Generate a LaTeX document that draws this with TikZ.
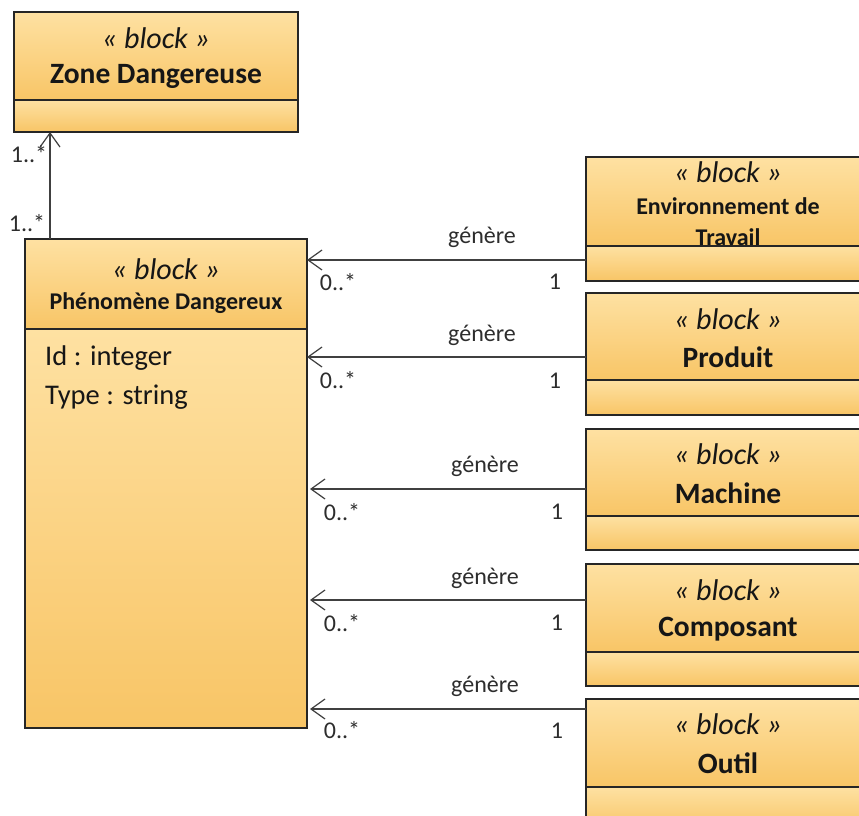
\documentclass[tikz,border=0pt]{standalone}
\usepackage{fontspec}
\setmainfont{Carlito}
\usetikzlibrary{arrows.meta}
\definecolor{boxtop}{RGB}{254,225,162}
\definecolor{boxbot}{RGB}{248,197,102}
\definecolor{txt}{RGB}{22,22,22}
\definecolor{lbl}{RGB}{45,45,45}
\tikzset{
 comp/.style={draw=black!85, line width=1.8pt, top color=boxtop, bottom color=boxbot, inner sep=0pt, outer sep=0pt},
 stereo/.style={font=\fontsize{30}{34}\selectfont\itshape, text=txt, inner sep=0pt},
 titlebig/.style={font=\fontsize{29.5}{34}\selectfont\bfseries, text=txt, inner sep=0pt},
 titlesmall/.style={font=\fontsize{24}{28}\selectfont\bfseries, text=txt, inner sep=0pt},
 attr/.style={font=\fontsize{28.5}{32}\selectfont, text=txt, anchor=west, inner sep=0pt},
 lab/.style={font=\fontsize{24}{28}\selectfont, text=lbl, inner sep=0pt},
 assoc/.style={line width=1.2pt, draw=black!75, -{Straight Barb[length=14pt,width=20pt,line width=1.2pt]}},
}
\newcommand\ublock[6]{%
  \node[comp, anchor=north west, minimum width={#3-#2}, minimum height={#5-#4}] (#1) at (#2,#4) {};
  \node[comp, anchor=north west, minimum width={#3-#2}, minimum height={#6-#5}] (#1b) at (#2,#5) {};
}
\begin{document}
\begin{tikzpicture}[x=1pt,y=-1pt]
\useasboundingbox (0,0) rectangle (859,816);
\clip (0,0) rectangle (859,816);
\fill[white] (0,0) rectangle (859,816);

% blocks
\ublock{zone}{14}{298}{12}{100}{132}
\ublock{phen}{25}{307}{239}{329}{728}
\ublock{env}{586}{872}{157}{246}{281}
\ublock{prod}{586}{872}{293}{380}{415}
\ublock{mach}{586}{872}{429}{516}{550}
\ublock{compo}{586}{872}{564}{652}{686}
\ublock{outil}{586}{872}{699}{787}{830}

% titles
\node[stereo] (zs) at (156,38) {« block »};
\node[titlebig] (zt) at (156,76) {Zone Dangereuse};
\node[stereo] (ps) at (166,269) {« block »};
\node[titlesmall] (pt) at (166,303) {Phénomène Dangereux};
\node[attr] (pa1) at (45,358) {Id : integer};
\node[attr] (pa2) at (45,397) {Type : string};

\node[stereo] (es) at (728,172) {« block »};
\node[titlesmall] (et1) at (728,206) {Environnement de};
\node[titlesmall] (et2) at (728,237) {Travail};
\draw[black!85, line width=1.8pt] (envb.north west) -- (envb.north east);

\node[stereo] (prs) at (728,319) {« block »};
\node[titlebig] (prt) at (728,357) {Produit};
\node[stereo] (ms) at (728,454) {« block »};
\node[titlebig] (mt) at (728,493) {Machine};
\node[stereo] (cs) at (728,590) {« block »};
\node[titlebig] (ct) at (728,629) {Composant};
\node[stereo] (os) at (728,724) {« block »};
\node[titlebig] (ot) at (728,763) {Outil};

% vertical association
\draw[assoc] (phen.north -| 50,0) -- (zoneb.south -| 50,0);
\node[lab] (m1) at (29,154) {1..*};
\node[lab] (m2) at (27,223) {1..*};

% horizontal associations
\draw[assoc] (envb.west |- 0,260) -- (phen.east |- 0,260);
\node[lab] (g1) at (482,237) {génère};
\node[lab] (a1) at (338,282) {0..*};
\node[lab] (b1) at (555,282) {1};

\draw[assoc] (prod.west |- 0,357) -- (phen.east |- 0,357);
\node[lab] (g2) at (482,335) {génère};
\node[lab] (a2) at (338,380) {0..*};
\node[lab] (b2) at (555,381) {1};

\draw[assoc] (mach.west |- 0,489) -- ([xshift=3pt]phenb.east |- 0,489);
\node[lab] (g3) at (485,466) {génère};
\node[lab] (a3) at (342,512) {0..*};
\node[lab] (b3) at (557,512) {1};

\draw[assoc] (compo.west |- 0,600) -- ([xshift=3pt]phenb.east |- 0,600);
\node[lab] (g4) at (485,578) {génère};
\node[lab] (a4) at (342,623) {0..*};
\node[lab] (b4) at (557,623) {1};

\draw[assoc] (outil.west |- 0,709) -- ([xshift=3pt]phenb.east |- 0,709);
\node[lab] (g5) at (485,686) {génère};
\node[lab] (a5) at (342,730) {0..*};
\node[lab] (b5) at (557,731) {1};
\end{tikzpicture}
\end{document}
